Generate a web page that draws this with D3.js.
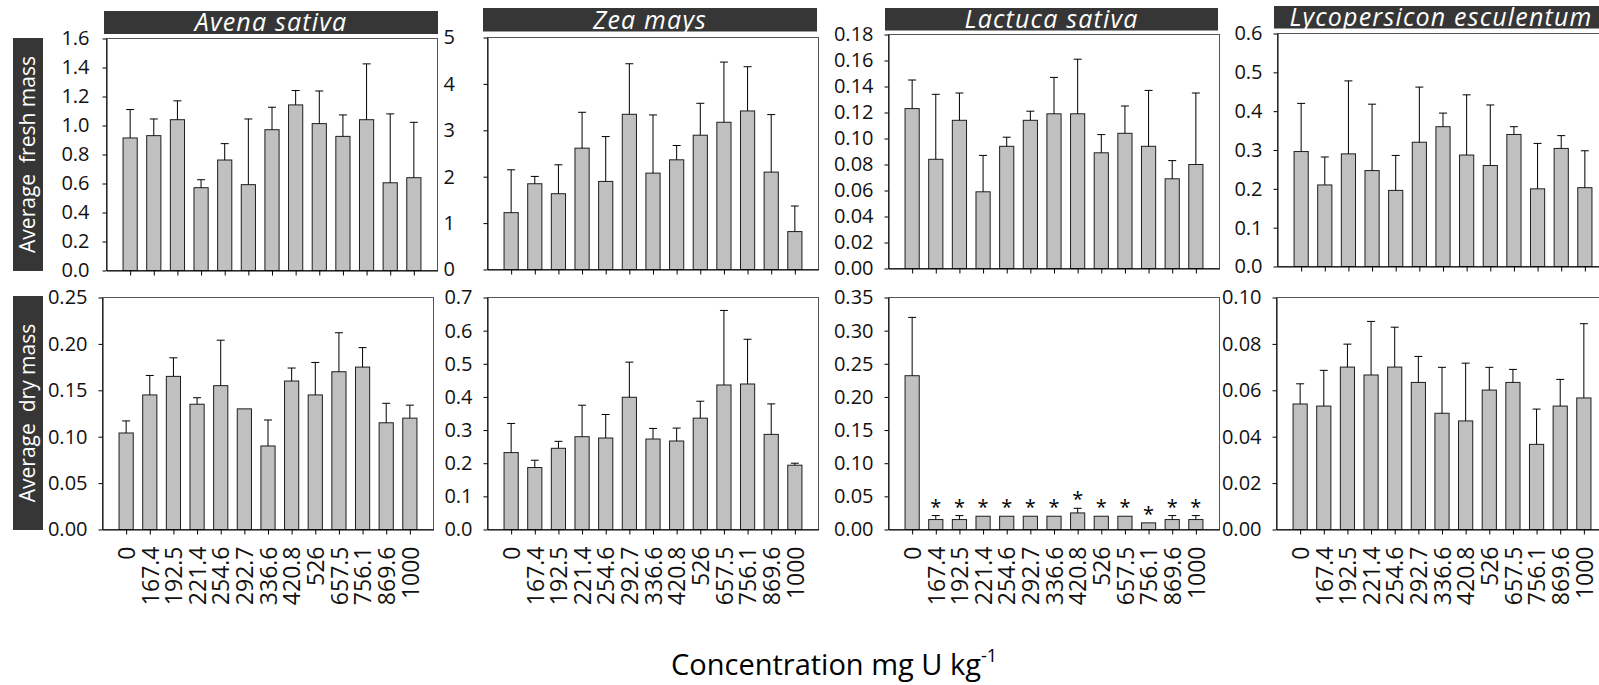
<!DOCTYPE html>
<html>
<head>
<meta charset="utf-8">
<script src="https://cdn.jsdelivr.net/npm/d3@7"></script>
<style>
  html, body { margin: 0; padding: 0; background: #fff; }
  svg { display: block; font-family: "Open Sans", "Noto Sans", sans-serif; }
</style>
</head>
<body>
<svg id="chart" width="1599" height="685"></svg>
<script>
// Uranium concentrations in soil (mg U kg-1)
const concentrations = ["0", "167.4", "192.5", "221.4", "254.6", "292.7", "336.6",
  "420.8", "526", "657.5", "756.1", "869.6", "1000"];

const species = ["Avena sativa", "Zea mays", "Lactuca sativa", "Lycopersicon esculentum"];

// Average fresh mass (g) and standard deviations
const avenaFresh   = [0.914, 0.930, 1.040, 0.571, 0.762, 0.592, 0.971, 1.142, 1.013, 0.925, 1.040, 0.605, 0.640];
const avenaFreshSD = [0.196, 0.115, 0.130, 0.055, 0.113, 0.453, 0.155, 0.099, 0.225, 0.148, 0.385, 0.475, 0.382];
const zeaFresh     = [1.225, 1.848, 1.633, 2.615, 1.898, 3.345, 2.077, 2.364, 2.894, 3.173, 3.417, 2.099, 0.817];
const zeaFreshSD   = [0.924, 0.158, 0.623, 0.773, 0.967, 1.089, 1.254, 0.308, 0.688, 1.297, 0.953, 1.239, 0.551];
const lactucaFresh   = [0.123, 0.084, 0.114, 0.059, 0.094, 0.114, 0.119, 0.119, 0.089, 0.104, 0.094, 0.069, 0.080];
const lactucaFreshSD = [0.022, 0.050, 0.021, 0.028, 0.007, 0.007, 0.028, 0.042, 0.014, 0.021, 0.043, 0.014, 0.055];
const tomatoFresh   = [0.296, 0.210, 0.290, 0.247, 0.196, 0.320, 0.360, 0.287, 0.260, 0.340, 0.200, 0.304, 0.203];
const tomatoFreshSD = [0.124, 0.072, 0.188, 0.171, 0.090, 0.142, 0.035, 0.155, 0.156, 0.020, 0.117, 0.033, 0.095];

// Average dry mass (g) and standard deviations
const avenaDry   = [0.104, 0.145, 0.165, 0.135, 0.155, 0.130, 0.090, 0.160, 0.145, 0.170, 0.175, 0.115, 0.120];
const avenaDrySD = [0.013, 0.021, 0.020, 0.007, 0.049, 0.000, 0.028, 0.014, 0.035, 0.042, 0.021, 0.021, 0.014];
const zeaDry     = [0.232, 0.187, 0.245, 0.280, 0.276, 0.399, 0.273, 0.267, 0.336, 0.436, 0.439, 0.287, 0.194];
const zeaDrySD   = [0.088, 0.022, 0.021, 0.095, 0.071, 0.106, 0.032, 0.039, 0.051, 0.225, 0.135, 0.092, 0.006];
const lactucaDry   = [0.232, 0.015, 0.015, 0.020, 0.020, 0.020, 0.020, 0.025, 0.020, 0.020, 0.010, 0.015, 0.015];
const lactucaDrySD = [0.088, 0.006, 0.006, 0.000, 0.000, 0.000, 0.000, 0.007, 0.000, 0.000, 0.000, 0.006, 0.006];
const lactucaDrySignificant = [false, true, true, true, true, true, true, true, true, true, true, true, true];
const tomatoDry   = [0.0541, 0.0532, 0.0700, 0.0666, 0.0700, 0.0634, 0.0501, 0.0468, 0.0601, 0.0634, 0.0367, 0.0532, 0.0567];
const tomatoDrySD = [0.0087, 0.0154, 0.0099, 0.0231, 0.0172, 0.0112, 0.0198, 0.0249, 0.0098, 0.0056, 0.0152, 0.0115, 0.0320];

// Y-axis tick values
const avenaFreshTicks   = [0, 0.2, 0.4, 0.6, 0.8, 1.0, 1.2, 1.4, 1.6];
const zeaFreshTicks     = [0, 1, 2, 3, 4, 5];
const lactucaFreshTicks = [0, 0.02, 0.04, 0.06, 0.08, 0.10, 0.12, 0.14, 0.16, 0.18];
const tomatoFreshTicks  = [0, 0.1, 0.2, 0.3, 0.4, 0.5, 0.6];
const avenaDryTicks     = [0, 0.05, 0.10, 0.15, 0.20, 0.25];
const zeaDryTicks       = [0, 0.1, 0.2, 0.3, 0.4, 0.5, 0.6, 0.7];
const lactucaDryTicks   = [0, 0.05, 0.10, 0.15, 0.20, 0.25, 0.30, 0.35];
const tomatoDryTicks    = [0, 0.02, 0.04, 0.06, 0.08, 0.10];

const svg = d3.select("#chart");
const W = 331;            // plot width shared by all panels
const DARK = "#363636";
const FONT = '"Open Sans", "Noto Sans", sans-serif';

const f1 = d3.format(".1f"), f2 = d3.format(".2f"), f0 = d3.format("d");

const panels = [
  // fresh mass row
  { x: 106, y: 38, h: 232, means: avenaFresh, sd: avenaFreshSD, ticks: avenaFreshTicks, fmt: f1, pad: 13 },
  { x: 487, y: 37, h: 232, means: zeaFresh, sd: zeaFreshSD, ticks: zeaFreshTicks, fmt: f0, labelStart: -44 },
  { x: 888, y: 34, h: 234, means: lactucaFresh, sd: lactucaFreshSD, ticks: lactucaFreshTicks, fmt: f2 },
  { x: 1277, y: 33, h: 233, means: tomatoFresh, sd: tomatoFreshSD, ticks: tomatoFreshTicks, fmt: f1 },
  // dry mass row
  { x: 102, y: 297, h: 232, means: avenaDry, sd: avenaDrySD, ticks: avenaDryTicks, fmt: f2, xLabels: true },
  { x: 487, y: 297, h: 232, means: zeaDry, sd: zeaDrySD, ticks: zeaDryTicks, fmt: f1, xLabels: true },
  { x: 888, y: 297, h: 232, means: lactucaDry, sd: lactucaDrySD, ticks: lactucaDryTicks, fmt: f2, xLabels: true, stars: lactucaDrySignificant },
  { x: 1276, y: 297, h: 232, means: tomatoDry, sd: tomatoDrySD, ticks: tomatoDryTicks, fmt: f2, xLabels: true }
];

function drawPanel(p) {
  const g = svg.append("g").attr("transform", `translate(${p.x + 0.5},${p.y + 0.5})`);
  const x = d3.scalePoint().domain(concentrations).range([0, W]).padding(1);
  const y = d3.scaleLinear().domain([0, p.ticks[p.ticks.length - 1]]).range([p.h, 0]);
  const bw = x.step() * 0.6;
  const rows = p.means.map((m, i) => ({ c: concentrations[i], m, s: p.sd[i], star: p.stars ? p.stars[i] : false }));

  // frame
  g.append("rect").attr("width", W).attr("height", p.h)
    .attr("fill", "none").attr("stroke", "#555").attr("stroke-width", 1);

  // bars
  g.selectAll("rect.bar").data(rows).join("rect")
    .attr("class", "bar")
    .attr("x", d => x(d.c) - bw / 2)
    .attr("y", d => y(d.m))
    .attr("width", bw)
    .attr("height", d => p.h - y(d.m))
    .attr("fill", "#c0c0c0").attr("stroke", "#1e1e1e").attr("stroke-width", 1);

  // upper error bars
  const eb = g.append("g").attr("stroke", "#000").attr("stroke-width", 1);
  rows.filter(d => d.s > 0).forEach(d => {
    const cx = x(d.c), top = y(d.m + d.s);
    eb.append("line").attr("x1", cx).attr("x2", cx).attr("y1", y(d.m)).attr("y2", top);
    eb.append("line").attr("x1", cx - 4).attr("x2", cx + 4).attr("y1", top).attr("y2", top);
  });

  // significance marks
  g.selectAll("text.star").data(rows.filter(d => d.star)).join("text")
    .attr("class", "star")
    .attr("x", d => x(d.c))
    .attr("y", d => y(d.m + d.s) - 2)
    .attr("text-anchor", "middle")
    .attr("font-size", 20).attr("fill", "#000")
    .text("*");

  // y axis
  const ya = g.append("g")
    .call(d3.axisLeft(y).tickValues(p.ticks).tickFormat(p.fmt)
      .tickSize(4).tickSizeOuter(0).tickPadding(p.pad || 11))
    .attr("font-family", FONT).attr("font-size", 20);
  ya.select(".domain").attr("stroke", "#000");
  ya.selectAll(".tick line").attr("stroke", "#000");
  ya.selectAll(".tick text").attr("fill", "#111");
  if (p.labelStart !== undefined) {
    ya.selectAll(".tick text").attr("text-anchor", "start").attr("x", p.labelStart);
  }

  // x axis
  const xa = g.append("g").attr("transform", `translate(0,${p.h})`)
    .call(d3.axisBottom(x).tickSize(5).tickSizeOuter(0))
    .attr("font-family", FONT).attr("font-size", 23);
  xa.select(".domain").attr("stroke", "#000");
  xa.selectAll(".tick line").attr("stroke", "#000");
  if (p.xLabels) {
    xa.selectAll(".tick text")
      .attr("fill", "#111")
      .attr("transform", "rotate(-90)")
      .attr("x", -17).attr("y", 0).attr("dy", "0.36em")
      .attr("text-anchor", "end");
  } else {
    xa.selectAll(".tick text").remove();
  }
}

panels.forEach(drawPanel);

// species title bars
const titleBoxes = [
  { x: 104, y: 11, w: 334, h: 23 },
  { x: 483, y: 8, w: 334, h: 23.5 },
  { x: 885, y: 8, w: 333, h: 22.5 },
  { x: 1274, y: 6, w: 334, h: 22.5 }
];
titleBoxes.forEach((b, i) => {
  svg.append("rect").attr("x", b.x).attr("y", b.y).attr("width", b.w).attr("height", b.h).attr("fill", DARK);
  svg.append("text")
    .attr("x", b.x + b.w / 2).attr("y", b.y + b.h - 3)
    .attr("text-anchor", "middle")
    .attr("font-size", 25).attr("letter-spacing", 1.2)
    .attr("font-style", "italic").attr("fill", "#fff")
    .text(species[i]);
});

// row labels
const rowLabels = [
  { text: "Average  fresh mass", x: 13, y: 38, w: 30, h: 233 },
  { text: "Average  dry mass", x: 13, y: 296, w: 30, h: 234 }
];
rowLabels.forEach(r => {
  svg.append("rect").attr("x", r.x).attr("y", r.y).attr("width", r.w).attr("height", r.h).attr("fill", DARK);
  svg.append("text")
    .attr("transform", `translate(${r.x + r.w / 2},${r.y + r.h / 2}) rotate(-90)`)
    .attr("text-anchor", "middle").attr("dy", "0.35em")
    .attr("font-size", 21).attr("fill", "#fff")
    .style("white-space", "pre")
    .text(r.text);
});

// shared x-axis title
const xt = svg.append("text").attr("x", 671).attr("y", 675)
  .attr("font-size", 29).attr("fill", "#000");
xt.append("tspan").text("Concentration mg U kg");
xt.append("tspan").attr("font-size", 18).attr("dy", -13).text("-1");
</script>
</body>
</html>
